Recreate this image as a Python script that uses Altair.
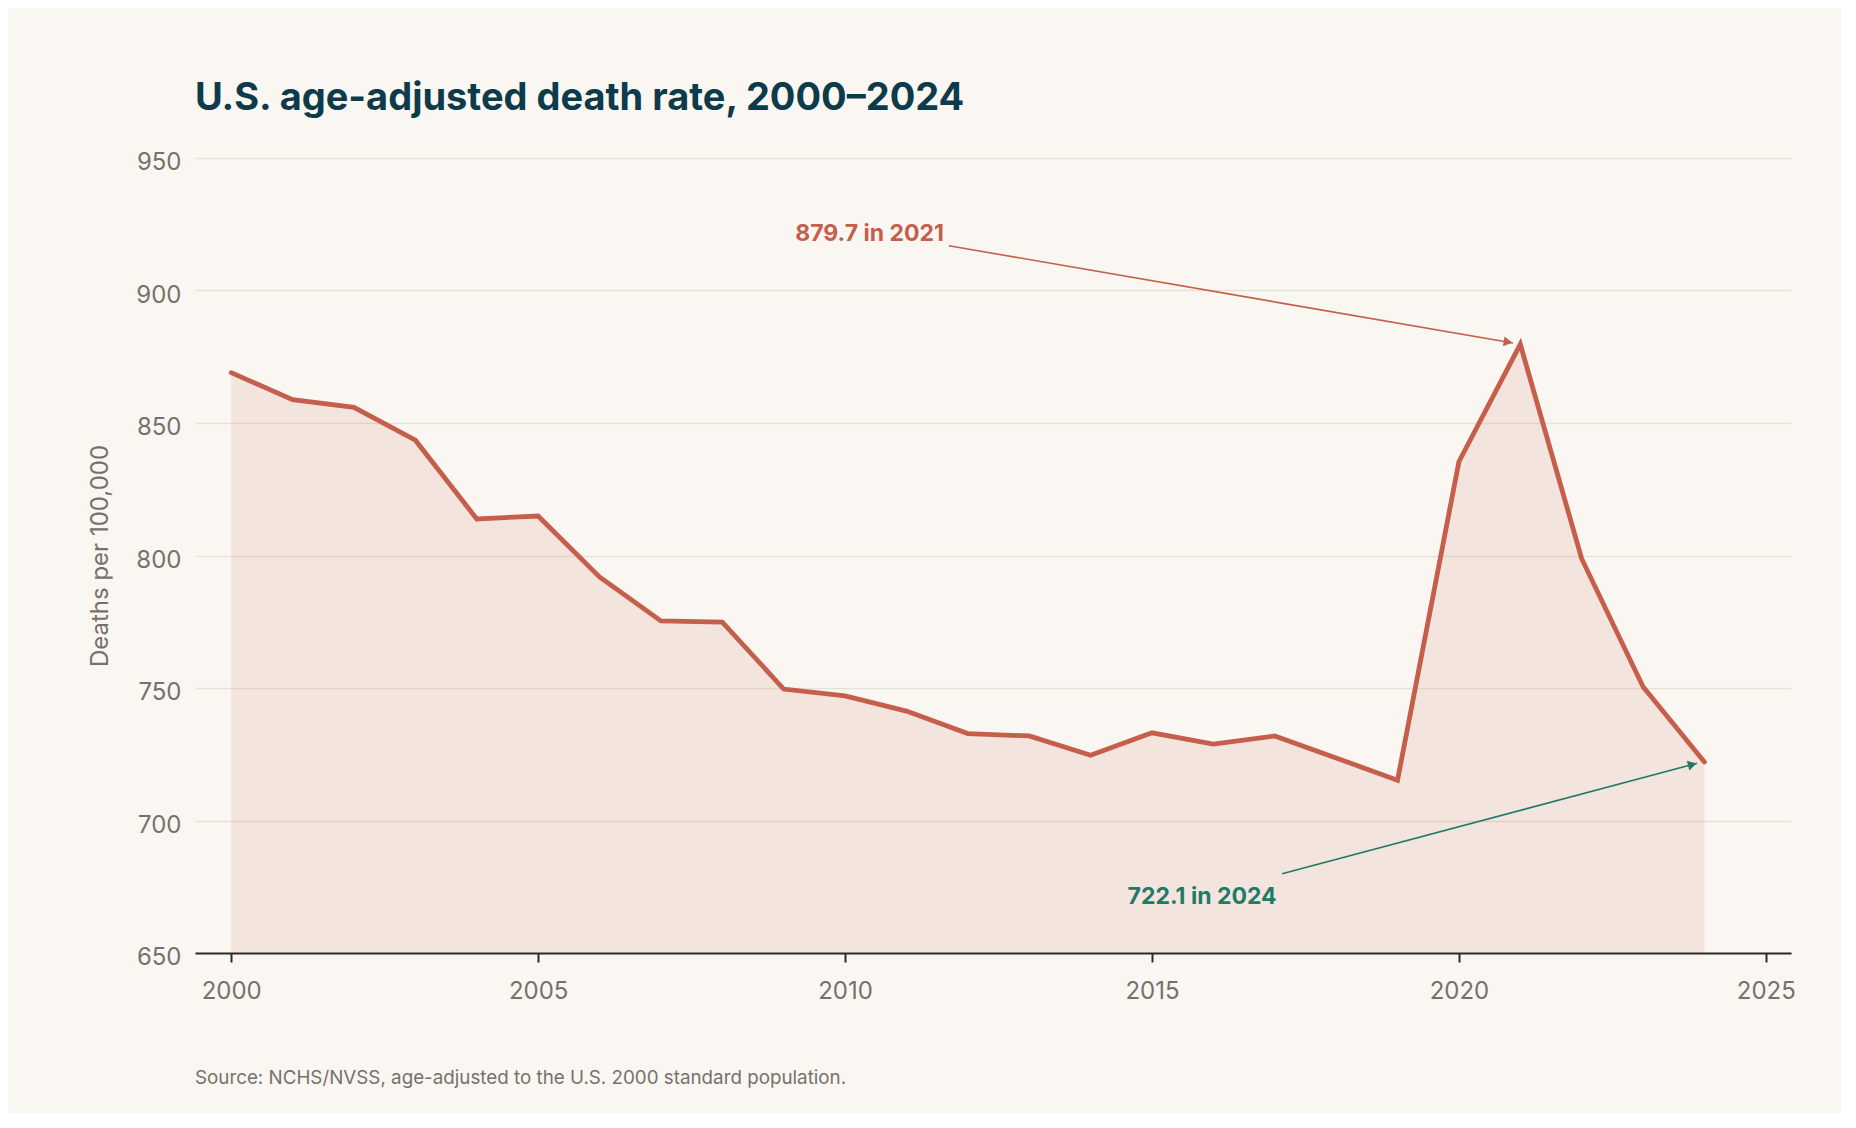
import math
import altair as alt
import pandas as pd

# ---- data ----
years = list(range(2000, 2025))
rates = [869.0, 858.8, 855.9, 843.5, 813.8, 814.9, 791.9, 775.3, 774.9, 749.6,
         747.0, 741.3, 732.8, 731.9, 724.6, 733.1, 728.8, 731.9, 723.6, 715.2,
         835.4, 879.7, 798.8, 750.5, 722.1]

x_ticks = [2000, 2005, 2010, 2015, 2020, 2025]
y_ticks = [650, 700, 750, 800, 850, 900, 950]
x_domain = [1999.41, 2025.41]
y_domain = [650, 950]

ann_labels = ["879.7 in 2021", "722.1 in 2024"]
ann_colors = ["#c55e4b", "#1f7a68"]
ann_text_x = [2011.61, 2017.03]
ann_text_y = [918.7, 668.5]
arrow_x1 = [2011.69, 2017.12]
arrow_y1 = [916.9, 679.9]
arrow_x2 = [2020.88, 2023.88]
arrow_y2 = [880.2, 721.6]

title_text = "U.S. age-adjusted death rate, 2000\u20132024"
y_title = "Deaths per 100,000"
source_text = "Source: NCHS/NVSS, age-adjusted to the U.S. 2000 standard population."

# ---- styling ----
W, H = 1596, 795
BG = "#faf7f2"
RED = "#c55e4b"
GRAY = "#77716b"
FONT = "Inter"
HEAD_SIZE = 100

kx = W / (x_domain[1] - x_domain[0])
ky = H / (y_domain[1] - y_domain[0])
r = math.sqrt(HEAD_SIZE) / 2

rows = []
for i in range(len(ann_labels)):
    dxp = (arrow_x2[i] - arrow_x1[i]) * kx
    dyp = -(arrow_y2[i] - arrow_y1[i]) * ky
    ang = math.atan2(dyp, dxp)
    rows.append({
        "label": ann_labels[i], "c": ann_colors[i],
        "tx": ann_text_x[i], "ty": ann_text_y[i],
        "x1": arrow_x1[i], "y1": arrow_y1[i],
        "x2": arrow_x2[i], "y2": arrow_y2[i],
        "hx": arrow_x2[i] - r * math.cos(ang) / kx,
        "hy": arrow_y2[i] + r * math.sin(ang) / ky,
        "ang": math.degrees(ang) % 360,
    })
ann = pd.DataFrame(rows)
df = pd.DataFrame({"year": years, "rate": rates})

xs = alt.Scale(domain=x_domain, nice=False, zero=False)
ys = alt.Scale(domain=y_domain, nice=False, zero=False)

x_axis = alt.Axis(values=x_ticks, format="d", grid=False, title=None,
                  domainColor="#2b2b2b", domainWidth=2, tickColor="#2b2b2b",
                  tickWidth=2, tickSize=9, labelFontSize=24, labelColor=GRAY,
                  labelFont=FONT, labelBaseline="alphabetic", labelPadding=36,
                  labelFlush=False, labelOverlap=False)
y_axis = alt.Axis(values=y_ticks, grid=True, gridColor="#e7e1d8", gridWidth=1.3,
                  domain=False, ticks=False, labelFontSize=24, labelColor=GRAY,
                  labelFont=FONT, labelPadding=14, labelBaseline="alphabetic",
                  labelOffset=11.5, title=y_title, titleFont=FONT,
                  titleFontSize=24, titleFontWeight="normal", titleColor=GRAY,
                  titleX=-95, titleY=H / 2, titleAngle=270, titleAlign="center",
                  titleBaseline="middle")


def X(field):
    return alt.X(field, scale=xs, axis=x_axis, title=None)


def Y(field):
    return alt.Y(field, scale=ys, axis=y_axis, title=y_title)


base = alt.Chart(df)
area = base.mark_area(color=RED, opacity=0.12).encode(
    x=X("year:Q"), y=Y("rate:Q"), y2=alt.datum(650),
)
line = base.mark_line(color=RED, strokeWidth=4.8, strokeCap="round").encode(
    x=X("year:Q"), y=Y("rate:Q"),
)

annc = alt.Chart(ann)
rules = annc.mark_rule(strokeWidth=1.6).encode(
    x=X("x1:Q"), y=Y("y1:Q"), x2="x2:Q", y2="y2:Q",
    color=alt.Color("c:N", scale=None),
)
heads = annc.mark_point(shape="triangle-right", filled=True, size=HEAD_SIZE,
                        opacity=1).encode(
    x=X("hx:Q"), y=Y("hy:Q"),
    angle=alt.Angle("ang:Q", scale=None),
    color=alt.Color("c:N", scale=None),
)
texts = annc.mark_text(align="right", baseline="alphabetic", fontSize=23,
                       fontWeight="bold", font=FONT).encode(
    x=X("tx:Q"), y=Y("ty:Q"), text="label:N",
    color=alt.Color("c:N", scale=None),
)
source = alt.Chart(pd.DataFrame({"s": [source_text]})).mark_text(
    align="left", baseline="alphabetic", fontSize=18.8, color=GRAY, font=FONT
).encode(x=alt.value(0), y=alt.value(H + 131), text="s:N")

chart = alt.layer(area, line, rules, heads, texts, source).properties(
    width=W, height=H,
    title=alt.TitleParams(title_text, anchor="start", frame="group",
                          baseline="alphabetic", offset=3, fontSize=38,
                          fontWeight="bold", font=FONT, color="#0e3b4b"),
    autosize=alt.AutoSizeParams(type="none"),
    padding={"left": 187, "top": 150, "right": 50, "bottom": 160},
).configure(background=BG).configure_view(stroke=None)

chart.save("out.html", embed_options={"renderer": "svg", "actions": False})
